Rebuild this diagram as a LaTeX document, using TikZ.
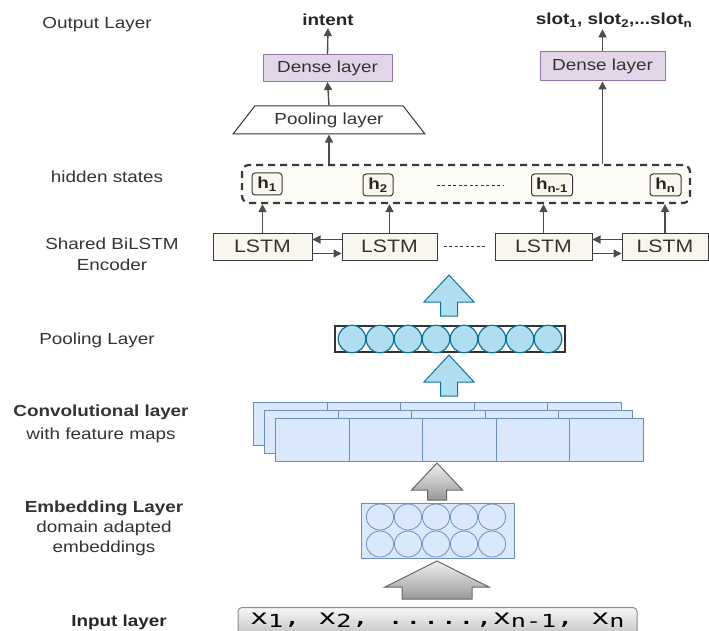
\documentclass[tikz,border=0pt]{standalone}
\usepackage{fontspec}
\setmainfont{Liberation Sans}[FakeStretch=1.18]
\newfontfamily\monofont{DejaVu Sans Mono}[FakeStretch=1.4]
\usepackage{xcolor}
\usepackage{tikz}
\usetikzlibrary{positioning, arrows.meta, shapes.geometric}
\definecolor{DenseFill}{HTML}{E1D5E7}
\definecolor{DenseLine}{HTML}{9673A6}
\definecolor{LstmFill}{HTML}{F9F7ED}
\definecolor{LstmLine}{HTML}{36393D}
\definecolor{HidFill}{HTML}{FCFBF6}
\definecolor{MapFill}{HTML}{DAE8FC}
\definecolor{MapLine}{HTML}{6C8EBF}
\definecolor{PoolFill}{HTML}{B1DDF0}
\definecolor{PoolLine}{HTML}{10739E}
\definecolor{LblGray}{HTML}{333333}

\newcommand{\blockarrow}[7]{%
  \draw[#7] (#1,#2) -- (#1+#5,#3) -- (#1+#6,#3) -- (#1+#6,#4) -- (#1-#6,#4) -- (#1-#6,#3) -- (#1-#5,#3) -- cycle;}
\newcommand{\insub}[1]{\raisebox{-3.5pt}{\fontsize{18}{18}\selectfont #1}}

\begin{document}
\begin{tikzpicture}[
            x=1pt, y=-1pt,
            lbl/.style={text=LblGray, font=\fontsize{16}{21}\selectfont, align=center},
            blbl/.style={text=black!85, font=\fontsize{16}{21}\selectfont\bfseries, align=center, inner sep=2pt},
            dense/.style={draw=DenseLine, fill=DenseFill, line width=1pt, minimum height=27pt, text=LblGray, font=\fontsize{16}{19}\selectfont, inner sep=0pt},
            lstm/.style={draw=LstmLine, fill=LstmFill, line width=1pt, minimum height=27pt, text=LblGray, font=\fontsize{18}{20}\selectfont, inner sep=0pt},
            hbox/.style={draw=LstmLine, fill=LstmFill, rounded corners=3pt, line width=1pt, minimum height=22pt, inner sep=0pt, text=black!85, font=\fontsize{16}{18}\selectfont\bfseries},
            arr/.style={-{Triangle[length=8pt, width=8pt]}, line width=1.4pt, draw=black!70},
            cell/.style={draw=MapLine, fill=MapFill, line width=0.8pt, minimum width=73.6pt, minimum height=43pt, inner sep=0pt, anchor=north west},
            unit/.style={circle, draw=PoolLine, fill=PoolFill, line width=1.2pt, minimum size=27.5pt, inner sep=0pt},
            emb/.style={ellipse, draw=MapLine, line width=0.8pt, minimum width=27.5pt, minimum height=26pt, inner sep=0pt},
            bluearrow/.style={draw=PoolLine, fill=PoolFill, line width=1pt},
            grayarrow/.style={draw=black!60, top color=black!6, bottom color=black!40, line width=1pt}
        ]
            \useasboundingbox (0,0) rectangle (709,631);

            \node[lbl] (outlbl) at (97,25) {Output Layer};
            \node[lbl] (hidlbl) at (107,177) {hidden states};
            \node[lbl] (enclbl) at (112,254) {Shared BiLSTM\\Encoder};
            \node[lbl] (poollbl) at (97,340) {Pooling Layer};
            \node[lbl] (convlbl) at (101,424) {\textbf{Convolutional layer}\\[2pt]with feature maps};
            \node[lbl, font=\fontsize{16}{20}\selectfont] (emblbl) at (104,528) {\textbf{Embedding Layer}\\domain adapted\\embeddings};
            \node[blbl] (inplbl) at (119,622) {Input layer};

            \node[draw=LstmLine, fill=HidFill, rounded corners=7pt, line width=2.2pt, dash pattern=on 7pt off 5pt, minimum width=448pt, minimum height=38pt] (hidden) at (466,184) {};
            \node[hbox, minimum width=30pt] (h1) at (267,184) {h\textsubscript{1}};
            \node[hbox, minimum width=30pt] (h2) at (378,185) {h\textsubscript{2}};
            \node[hbox, minimum width=41pt] (hn1) at (552,185) {h\textsubscript{n-1}};
            \node[hbox, minimum width=31pt] (hn) at (665.5,185) {h\textsubscript{n}};
            \draw[LblGray, line width=0.8pt, dash pattern=on 3pt off 2.5pt] ([xshift=43pt]h2.east) -- ([xshift=-27pt]hn1.west);

            \node[lstm, minimum width=99pt] (lstm1) at (262.5,246.5) {LSTM};
            \node[lstm, minimum width=95pt] (lstm2) at (389.5,246.5) {LSTM};
            \node[lstm, minimum width=97pt] (lstm3) at (543.5,246.5) {LSTM};
            \node[lstm, minimum width=86pt] (lstm4) at (665,246.5) {LSTM};

            \draw[arr] ([yshift=7pt]lstm2.west) -- ([yshift=7pt]lstm1.east);
            \draw[arr] ([yshift=-7pt]lstm1.east) -- ([yshift=-7pt]lstm2.west);
            \draw[arr] ([yshift=7pt]lstm4.west) -- ([yshift=7pt]lstm3.east);
            \draw[arr] ([yshift=-7pt]lstm3.east) -- ([yshift=-7pt]lstm4.west);
            \draw[LblGray, line width=0.8pt, dash pattern=on 3pt off 2.5pt] ([xshift=6pt]lstm2.east) -- ([xshift=-10pt]lstm3.west);
            \foreach \i in {1,...,4}
                \draw[arr] (lstm\i.north) -- (lstm\i.north |- hidden.south);

            \node[trapezium, trapezium angle=43, trapezium stretches=true, draw=black!80, fill=white, line width=1pt, minimum width=192pt, minimum height=28pt, inner sep=0pt, text=LblGray, font=\fontsize{16}{19}\selectfont] (pool) at (329,120) {Pooling layer};
            \node[dense, minimum width=129pt] (dense1) at (327.5,68) {Dense layer};
            \node[blbl] (intent) at (328,20) {intent};
            \node[dense, minimum width=125pt, minimum height=29pt] (dense2) at (602.5,66.5) {Dense layer};
            \node[blbl] (slots) at (614,20) {slot\textsubscript{1}, slot\textsubscript{2},...slot\textsubscript{n}};

            \draw[arr] (hidden.north -| pool.south) -- (pool.south);
            \draw[arr] (pool.north) -- (dense1.south);
            \draw[arr] (dense1.north) -- (intent.south);
            \draw[arr] (hidden.north -| dense2.south) -- (dense2.south);
            \draw[arr] (dense2.north) -- (dense2.north |- slots.south);

            \blockarrow{449}{275}{302}{316}{25}{8.5}{bluearrow}
            \node[draw=black!80, fill=white, line width=1.2pt, minimum width=230pt, minimum height=26pt, inner sep=0pt] (pbox) at (450,339) {};
            \foreach \i in {0,...,7}
                \node[unit] (p\i) at (352+28*\i,339) {};
            \blockarrow{449}{355}{382}{396}{25}{8.5}{bluearrow}

            \foreach \l/\dx/\dy in {0/253/402, 1/264/410, 2/275/418}
                \foreach \c in {0,...,4}
                    \node[cell] (conv\l\c) at (\dx+73.6*\c,\dy) {};

            \blockarrow{437}{463}{490}{500}{25.5}{9.5}{grayarrow}
            \node[draw=MapLine, fill=MapFill, line width=0.8pt, minimum width=153pt, minimum height=55pt, inner sep=0pt] (embed) at (437.5,530.5) {};
            \foreach \r/\y in {a/517, b/544}
                \foreach \i in {0,...,4}
                    \node[emb] (e\r\i) at (380+28*\i,\y) {};
            \blockarrow{437}{561}{587}{599}{52}{35}{grayarrow}

            \node[draw=black!45, top color=black!3, bottom color=black!25, rounded corners=4pt, line width=1pt, minimum width=399pt, text height=11pt, text depth=8pt, inner xsep=0pt, inner ysep=5.5pt, anchor=north, font=\fontsize{21}{24}\monofont] (input) at (437.5,607) {x\insub{1},\ x\insub{2},\ .....,x\insub{n-1},\ x\insub{n}};
        \end{tikzpicture}
\end{document}
